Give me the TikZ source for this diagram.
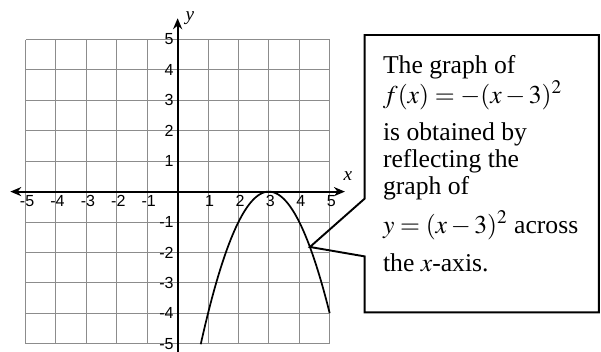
\documentclass[tikz,border=0pt]{standalone}
\usepackage{mathptmx}
\usepackage{fontspec}
\setmainfont{Liberation Serif}
\setsansfont{Liberation Sans}
\usetikzlibrary{arrows.meta}

\begin{document}
\begin{tikzpicture}[x=0.5cm,y=0.5cm,>={Stealth[length=1.8mm,width=1.5mm]},gridline/.style={black!45,line width=0.45pt},axis/.style={line width=0.9pt},tick/.style={font=\sffamily\fontsize{7.5}{8}\selectfont,inner sep=1pt},curve/.style={line width=0.8pt},callout/.style={line width=0.9pt,line join=miter},note/.style={align=left,inner sep=0pt,font=\fontsize{12}{12.8}\selectfont}]
\useasboundingbox (-5.84,-5.25) rectangle (13.92,6.30);
\draw[gridline,step={(1,1)}] (-5,-5) grid (5,5);
\coordinate (xl) at (-5.5,0);\coordinate (xr) at (5.5,0);
\coordinate (yb) at (0,-5.3);\coordinate (yt) at (0,5.7);
\draw[axis,<->] (xl)--(xr);
\draw[axis,->] (yb)--(yt);
\node[font=\itshape\fontsize{9}{9}\selectfont,inner sep=0pt] (xlab) at (5.6,0.5) {x};
\node[font=\itshape\fontsize{9}{9}\selectfont,inner sep=0pt] (ylab) at (0.4,5.7) {y};
\foreach \k in {-5,-4,-3,-2,-1,1,2,3,4,5}{
  \node[tick,anchor=north] (xt\k) at (\k+0.05,-0.05) {\k};
  \node[tick,anchor=east] (yt\k) at (-0.05,\k) {\k};
}
\draw[curve] plot[domain=0.76:5,samples=60] (\x,{-(\x-3)^2});
% callout box
\coordinate (tipp) at (4.35,-1.82);
\coordinate (bnw) at (6.15,5.15);\coordinate (bne) at (13.85,5.15);
\coordinate (bsw) at (6.15,-3.97);\coordinate (bse) at (13.85,-3.97);
\coordinate (ntop) at (6.15,-0.23);\coordinate (nbot) at (6.15,-2.13);
\draw[callout] (bnw)--(ntop)--(tipp)--(nbot)--(bsw)--(bse)--(bne)--cycle;
\node[note,anchor=north west] (txt) at (6.74,4.5) {The graph of\\ $f(x)=-(x-3)^2$\\[4.5pt] is obtained by\\ reflecting the\\ graph of\\[4pt] $y=(x-3)^2$ across\\[5pt] the $x$-axis.};
\end{tikzpicture}
\end{document}
